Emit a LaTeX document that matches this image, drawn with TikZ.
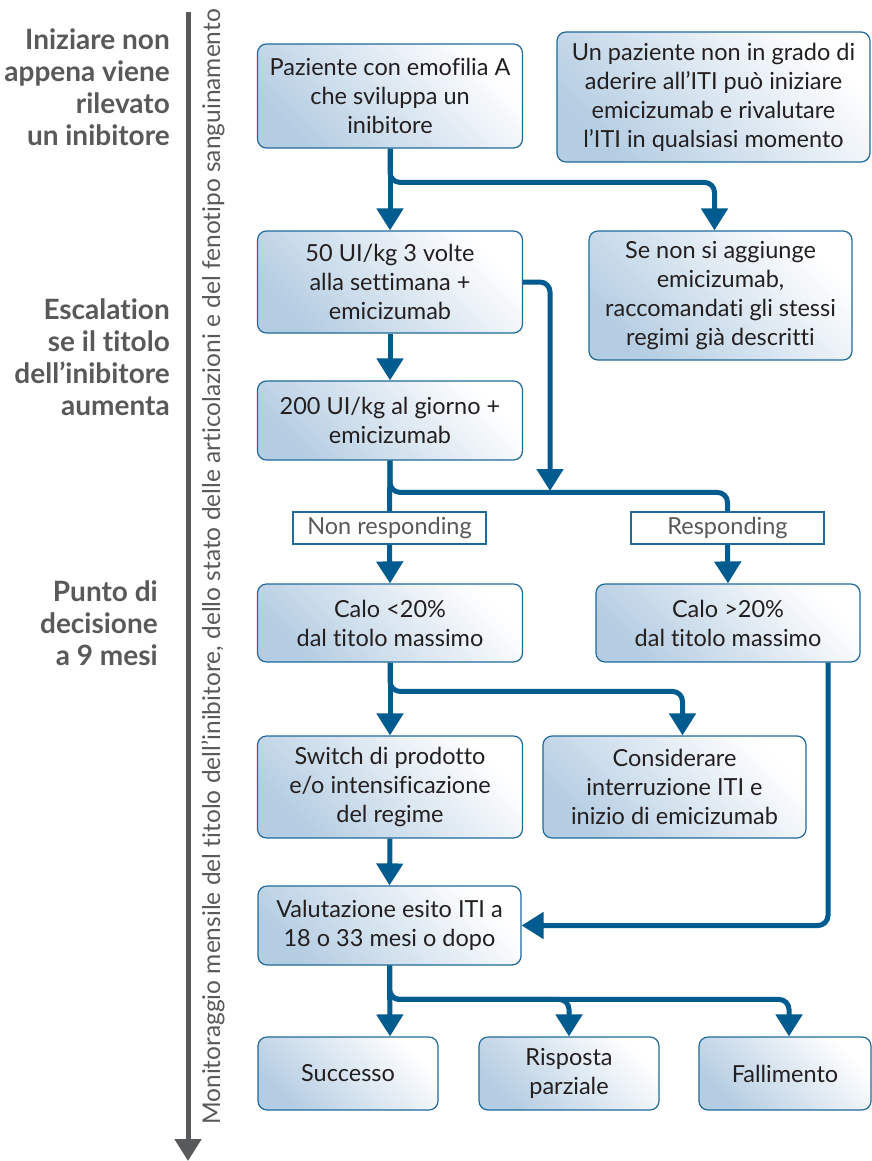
\documentclass[tikz,border=0pt]{standalone}
\usepackage{fontspec}
\setmainfont{Lato}[Ligatures=NoCommon]
\usepackage{tikz}
\usetikzlibrary{positioning}
\usetikzlibrary{calc,arrows.meta}

\definecolor{flowblue}{HTML}{005B8F}
\definecolor{edgeblue}{HTML}{1F6A9A}
\definecolor{fillblue}{HTML}{B5CDE2}
\definecolor{txtdark}{HTML}{231F20}
\definecolor{txtgray}{HTML}{58595B}

\begin{document}
\begin{tikzpicture}[x=1pt, y=-1pt,
    box/.style={draw=edgeblue, line width=1.2pt, rounded corners=9pt,
        top color=white, bottom color=fillblue, shading angle=-45,
        inner sep=0pt, align=center, text=txtdark,
        font=\fontsize{23.5}{29}\selectfont},
    tag/.style={draw=edgeblue, line width=1.2pt, fill=white, inner sep=0pt,
        minimum width=193pt, minimum height=32pt, text=txtgray,
        font=\fontsize{23.5}{26}\selectfont},
    side/.style={anchor=north east, align=right, text=txtgray, inner sep=0pt,
        font=\fontsize{28}{32}\selectfont\bfseries},
    line/.style={draw=flowblue, line width=5pt, rounded corners=10pt},
    flow/.style={line, -{Triangle[width=26pt,length=22pt]}}]
    \useasboundingbox (0,0) rectangle (872,1161);

    % time axis on the left
    \coordinate(axtop) at (188,12);
    \coordinate(axend) at (188,1161);
    \draw[draw=txtgray, line width=5pt, -{Triangle[width=26pt,length=22pt]}] (axtop) -- (axend);
    \node(axis) [rotate=90, text=txtgray, font=\fontsize{24.5}{26}\selectfont] at (213,567)
        {Monitoraggio mensile del titolo dell’inibitore, dello stato delle articolazioni e del fenotipo sanguinamento};

    \node(s1) [side] at (170,29) {Iniziare non\\appena viene\\rilevato\\un inibitore};
    \node(s2) [side] at (170,298) {Escalation\\se il titolo\\dell’inibitore\\aumenta};
    \node(s3) [side] at (158,580) {Punto di\\decisione\\a 9 mesi};

    % boxes
    \node(paz) [box, minimum width=265pt, minimum height=104pt] at (390,96) {Paziente con emofilia A\\che sviluppa un\\inibitore};
    \node(unpaz) [box, minimum width=313pt, minimum height=130pt] at (713.5,97) {Un paziente non in grado di\\aderire all’ITI può iniziare\\emicizumab e rivalutare\\l’ITI in qualsiasi momento};
    \node(ui50) [box, minimum width=265pt, minimum height=102pt] at (390,282) {50 UI/kg 3 volte\\alla settimana +\\emicizumab};
    \node(senon) [box, minimum width=263pt, minimum height=129pt] at (720.5,295.5) {Se non si aggiunge\\emicizumab,\\raccomandati gli stessi\\regimi già descritti};
    \node(ui200) [box, minimum width=265pt, minimum height=79pt] at (390,420.5) {200 UI/kg al giorno +\\emicizumab};
    \node(nonresp) [tag] at (389.5,528) {Non responding};
    \node(resp) [tag] at (727.5,528) {Responding};
    \node(calo1) [box, minimum width=265pt, minimum height=78pt] at (390,623) {Calo <20\%\\dal titolo massimo};
    \node(calo2) [box, minimum width=264pt, minimum height=78pt] at (728,623) {Calo >20\%\\dal titolo massimo};
    \node(switch) [box, minimum width=265pt, minimum height=102pt] at (390,787) {Switch di prodotto\\e/o intensificazione\\del regime};
    \node(cons) [box, minimum width=263pt, minimum height=102pt] at (674.5,787) {Considerare\\interruzione ITI e\\inizio di emicizumab};
    \node(valut) [box, minimum width=263pt, minimum height=79pt] at (389.5,925.5) {Valutazione esito ITI a\\18 o 33 mesi o dopo};
    \node(succ) [box, minimum width=180pt, minimum height=73pt] at (348,1073.5) {Successo};
    \node(risp) [box, minimum width=180pt, minimum height=73pt] at (569,1073.5) {Risposta\\parziale};
    \node(fall) [box, minimum width=172pt, minimum height=73pt] at (785,1073.5) {Fallimento};

    \coordinate(join) at (550,491);

    \draw[flow] (paz.south) -- (ui50.north);
    \draw[flow] (paz.south) |- ($(senon.north)+(-6,-48)$) -- ($(senon.north)+(-6,0)$);
    \draw[flow] (ui50.south) -- (ui200.north);
    \draw[flow] (ui50.east) -| (join);
    \draw[line] (ui200.south) -- (nonresp.north);
    \draw[line] (ui200.south) |- ($(resp.north)+(0,-19)$) -- (resp.north);
    \draw[flow] (nonresp.south) -- (calo1.north);
    \draw[flow] (resp.south) -- (calo2.north);
    \draw[flow] (calo1.south) -- (switch.north);
    \draw[flow] (calo1.south) |- ($(cons.north)+(8,-44)$) -- ($(cons.north)+(8,0)$);
    \draw[flow] (switch.south) -- (valut.north);
    \draw[flow] ($(calo2.south)+(100,0)$) |- (valut.east);
    \draw[flow] (valut.south) -- ($(succ.north)+(42,0)$);
    \draw[flow] (valut.south) |- ($(risp.north)+(0,-37)$) -- (risp.north);
    \draw[flow] (valut.south) |- ($(fall.north)+(4,-37)$) -- ($(fall.north)+(4,0)$);
\end{tikzpicture}
\end{document}
